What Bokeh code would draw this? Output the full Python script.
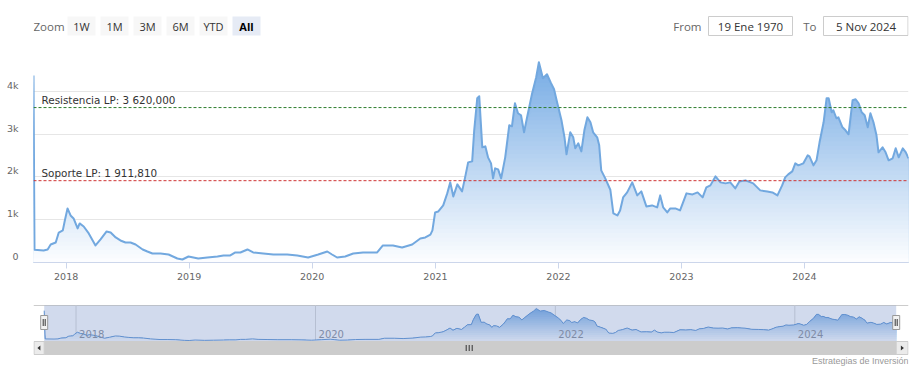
import numpy as np
import pandas as pd
from bokeh.plotting import figure
from bokeh.layouts import column
from bokeh.models import (Range1d, FixedTicker, DatetimeTickFormatter, Label, Span,
                          LinearAxis, Grid)
from bokeh.embed import file_html
from bokeh.resources import INLINE
from bokeh.core.properties import value

# ---------------- data ----------------
dates = [
    "2017-09-26", "2017-09-29", "2017-10-26", "2017-11-07", "2017-11-16", "2017-12-01", "2017-12-10",
    "2017-12-22", "2017-12-28", "2018-01-05", "2018-01-14", "2018-01-23", "2018-02-04", "2018-02-10",
    "2018-02-22", "2018-03-09", "2018-03-29", "2018-04-13", "2018-05-01", "2018-05-13", "2018-05-28",
    "2018-06-11", "2018-06-26", "2018-07-11", "2018-07-26", "2018-08-16", "2018-08-30", "2018-09-14",
    "2018-10-08", "2018-11-01", "2018-11-27", "2018-12-12", "2018-12-30", "2019-01-28", "2019-02-24",
    "2019-03-26", "2019-04-13", "2019-05-03", "2019-05-18", "2019-06-02", "2019-06-23", "2019-07-10",
    "2019-08-09", "2019-09-08", "2019-10-19", "2019-11-18", "2019-12-20", "2020-01-19", "2020-02-15",
    "2020-02-29", "2020-03-15", "2020-04-08", "2020-05-02", "2020-05-31", "2020-07-12", "2020-07-29",
    "2020-08-28", "2020-09-24", "2020-10-24", "2020-11-17", "2020-12-02", "2020-12-17", "2020-12-23",
    "2020-12-31", "2021-01-09", "2021-01-24", "2021-02-05", "2021-02-14", "2021-02-23", "2021-03-07",
    "2021-03-21", "2021-03-30", "2021-04-08", "2021-04-20", "2021-04-26", "2021-05-05", "2021-05-11",
    "2021-05-20", "2021-05-29", "2021-06-06", "2021-06-15", "2021-06-21", "2021-06-27", "2021-07-06",
    "2021-07-15", "2021-07-27", "2021-08-08", "2021-08-16", "2021-08-25", "2021-09-03", "2021-09-12",
    "2021-09-21", "2021-09-30", "2021-10-15", "2021-10-27", "2021-11-04", "2021-11-16", "2021-11-28",
    "2021-12-10", "2021-12-19", "2021-12-28", "2022-01-10", "2022-01-19", "2022-01-25", "2022-02-05",
    "2022-02-14", "2022-02-20", "2022-03-01", "2022-03-10", "2022-03-19", "2022-03-28", "2022-04-06",
    "2022-04-14", "2022-04-26", "2022-05-02", "2022-05-08", "2022-05-20", "2022-06-04", "2022-06-13",
    "2022-06-25", "2022-07-03", "2022-07-12", "2022-07-24", "2022-08-08", "2022-08-23", "2022-09-04",
    "2022-09-19", "2022-10-06", "2022-10-21", "2022-10-30", "2022-11-08", "2022-11-20", "2022-11-29",
    "2022-12-14", "2022-12-28", "2023-01-16", "2023-02-03", "2023-02-18", "2023-03-05", "2023-03-16",
    "2023-03-28", "2023-04-12", "2023-04-27", "2023-05-12", "2023-05-26", "2023-06-10", "2023-06-22",
    "2023-07-10", "2023-08-02", "2023-08-23", "2023-09-13", "2023-09-28", "2023-10-13", "2023-10-27",
    "2023-11-05", "2023-11-14", "2023-11-26", "2023-12-05", "2023-12-14", "2023-12-29", "2024-01-11",
    "2024-01-16", "2024-01-28", "2024-02-06", "2024-02-15", "2024-02-27", "2024-03-07", "2024-03-13",
    "2024-03-22", "2024-03-27", "2024-04-05", "2024-04-11", "2024-04-23", "2024-05-02", "2024-05-11",
    "2024-05-23", "2024-06-01", "2024-06-10", "2024-06-19", "2024-06-28", "2024-07-07", "2024-07-15",
    "2024-07-24", "2024-08-02", "2024-08-08", "2024-08-20", "2024-08-29", "2024-09-07", "2024-09-19",
    "2024-09-28", "2024-10-07", "2024-10-19", "2024-10-28", "2024-11-05",
]
values = [
    4370, 300, 280, 304, 420, 468, 700,
    750, 983, 1264, 1100, 1030, 796, 913,
    842, 679, 398, 538, 725, 702, 585,
    515, 468, 468, 421, 304, 257, 210,
    210, 187, 94, 70, 140, 94, 117,
    140, 164, 164, 234, 234, 304, 234,
    210, 187, 187, 164, 117, 187, 257,
    187, 117, 140, 210, 234, 234, 398,
    398, 351, 421, 562, 585, 650, 749,
    1170, 1190, 1334, 1615, 1872, 1544, 1825,
    1661, 1989, 2340, 2363, 3089, 3838, 3884,
    2691, 2714, 2457, 2317, 1966, 2200, 2176,
    1966, 2457, 3206, 3182, 3721, 3487, 3440,
    3042, 3393, 3955, 4329, 4680, 4306, 4399,
    4189, 4048, 3744, 3323, 2925, 2527, 3042,
    2925, 2668, 2785, 2597, 3089, 3393, 3276,
    3042, 2925, 2738, 2153, 1966, 1700, 1147,
    1100, 1217, 1521, 1638, 1872, 1568, 1661,
    1310, 1334, 1287, 1568, 1287, 1170, 1264,
    1264, 1217, 1615, 1591, 1638, 1521, 1755,
    1802, 2012, 1872, 1849, 1872, 1732, 1895,
    1919, 1849, 1685, 1661, 1638, 1568, 1802,
    1989, 2059, 2129, 2317, 2270, 2317, 2504,
    2480, 2270, 2387, 2808, 3276, 3838, 3838,
    3510, 3557, 3370, 3393, 3159, 3089, 2995,
    3791, 3814, 3721, 3510, 3440, 3159, 3487,
    3276, 2972, 2574, 2691, 2574, 2387, 2434,
    2668, 2457, 2668, 2574, 2434,
]

level_values = [3620.0, 1911.81]
level_names = ["Resistencia LP", "Soporte LP"]
level_colors = ["#2d7d2d", "#cf3434"]

y_ticks = [0, 1000, 2000, 3000, 4000, 5000]
y_tick_labels = ["0", "1k", "2k", "3k", "4k", ""]
x_tick_years = [2018, 2019, 2020, 2021, 2022, 2023, 2024]
nav_tick_years = [2018, 2020, 2022, 2024]
zoom_buttons = ["1W", "1M", "3M", "6M", "YTD", "All"]
selected_button = "All"
from_label, from_date = "From", "19 Ene 1970"
to_label, to_date = "To", "5 Nov 2024"
credit_text = "Estrategias de Inversión"

# ---------------- helpers ----------------
W = 922
FL, FR = 33, 908            # horizontal frame edges (page px), shared by all three panels
xs = pd.to_datetime(dates)
xms = xs.values.astype("datetime64[ms]").astype("int64").astype(float)
vals = np.array(values, dtype=float)


def year_ms(y):
    return float(np.datetime64(f"{y}-01-01", "ms").astype("int64"))


def es_num(v):
    s = f"{v:,.3f}"
    return s.replace(",", " ").replace(".", ",")


TOP = np.array([118, 171, 228], float)
BOT = np.array([253, 254, 255], float)


def grad(t):
    c = BOT + (TOP - BOT) * t
    return "#%02x%02x%02x" % tuple(int(round(q)) for q in c)


def draw_area(fig, nbands, line_color, line_width):
    vmax = vals.max()
    for k in range(nbands, 0, -1):
        b = vmax * k / nbands
        t = (k - 0.5) / nbands
        fig.varea(x=xms, y1=0, y2=np.minimum(vals, b), fill_color=grad(t), fill_alpha=1.0)
    fig.line(xms, vals, line_color=line_color, line_width=line_width, line_join="round")


FONT = "DejaVu Sans"
UI = "Open Sans"

# ---------------- header (range selector / inputs) ----------------
HH = 40
hdr = figure(width=W, height=HH, x_range=Range1d(FL, FR), y_range=Range1d(HH, 0),
             x_axis_location=None, y_axis_location=None, toolbar_location=None,
             output_backend="svg", min_border=0, min_border_left=FL, min_border_right=W - FR,
             outline_line_color=None)
hdr.grid.visible = False

btn_left = [67, 100, 133, 166, 199, 232]
btn_w = 28
btn_fill = ["#e6ebf5" if b == selected_button else "#f7f7f7" for b in zoom_buttons]
hdr.quad(left=btn_left, right=[l + btn_w for l in btn_left], top=16, bottom=35,
         fill_color=btn_fill, line_color=None)
norm = [(l + btn_w / 2, b) for l, b in zip(btn_left, zoom_buttons) if b != selected_button]
sel = [(l + btn_w / 2, b) for l, b in zip(btn_left, zoom_buttons) if b == selected_button]
hdr.text(x=[c for c, _ in norm], y=25.5, text=[b for _, b in norm], text_align="center",
         text_baseline="middle", text_font=value(UI), text_font_size="11px",
         text_color="#333333")
hdr.text(x=[c for c, _ in sel], y=25.5, text=[b for _, b in sel], text_align="center",
         text_baseline="middle", text_font=value(UI), text_font_size="11px",
         text_font_style="bold", text_color="#000000")
hdr.text(x=[33], y=[25.5], text=["Zoom"], text_align="left", text_baseline="middle",
         text_font=value(UI), text_font_size="11.5px", text_color="#666666")

hdr.quad(left=[708, 823], right=[792, 907.5], top=16, bottom=35, fill_color="#ffffff",
         line_color="#cccccc", line_width=1)
hdr.text(x=[701, 816], y=25.5, text=[from_label, to_label], text_align="right",
         text_baseline="middle", text_font=value(UI), text_font_size="11.5px",
         text_color="#666666")
hdr.text(x=[750, 865.5], y=25.5, text=[from_date, to_date], text_align="center",
         text_baseline="middle", text_font=value(UI), text_font_size="11.5px",
         text_color="#333333")

# ---------------- main chart ----------------
MH = 252
FT, FB = 8, 30
p = figure(width=W, height=MH, x_axis_type="datetime", y_axis_location=None,
           x_range=Range1d(xms[0], xms[-1]), y_range=Range1d(y_ticks[0], y_ticks[-1]),
           toolbar_location=None, output_backend="svg",
           min_border_left=FL, min_border_right=W - FR, min_border_top=FT, min_border_bottom=FB,
           outline_line_color=None, background_fill_color="#ffffff", border_fill_color="#ffffff")

frame_h = MH - FT - FB
lab_off = 6 * (y_ticks[-1] - y_ticks[0]) / frame_h   # labels sit ~6px above their gridline
p.extra_y_ranges = {"lab": Range1d(y_ticks[0] - lab_off, y_ticks[-1] - lab_off)}

if len(p.ygrid) == 0:
    p.add_layout(Grid(dimension=1, ticker=FixedTicker(ticks=y_ticks)))
for g in p.ygrid:
    g.ticker = FixedTicker(ticks=y_ticks)
    g.grid_line_color = "#e6e6e6"
p.xgrid.grid_line_color = None

draw_area(p, 48, "#72a8df", 2)

for lv, nm, col in zip(level_values, level_names, level_colors):
    p.add_layout(Span(location=lv, dimension="width", line_color=col, line_dash="3 2", line_width=1))
    p.add_layout(Label(x=xms[0], y=lv, x_offset=8, y_offset=2, text=f"{nm}: {es_num(lv)}",
                       text_baseline="bottom", text_font=FONT, text_font_size="10.4px",
                       text_color="#333333"))

p.xaxis.ticker = FixedTicker(ticks=[year_ms(y) for y in x_tick_years])
p.xaxis.formatter = DatetimeTickFormatter(years="%Y", months="%Y", days="%Y", hours="%Y",
                                          hourmin="%Y", minutes="%Y", minsec="%Y",
                                          seconds="%Y", milliseconds="%Y")
p.xaxis.axis_line_color = "#ccd6eb"
p.xaxis.major_tick_line_color = "#ccd6eb"
p.xaxis.major_tick_out = 6
p.xaxis.major_tick_in = 0
p.xaxis.minor_tick_line_color = None
p.xaxis.major_label_text_color = "#666666"
p.xaxis.major_label_text_font = FONT
p.xaxis.major_label_text_font_size = "9.5px"
p.xaxis.major_label_standoff = 4

yax = LinearAxis(y_range_name="lab", ticker=FixedTicker(ticks=y_ticks),
                 major_label_overrides={t: lab for t, lab in zip(y_ticks, y_tick_labels)},
                 axis_line_color=None, major_tick_line_color=None, minor_tick_line_color=None,
                 major_tick_out=0, major_tick_in=0, major_label_standoff=15,
                 major_label_text_color="#666666", major_label_text_font=FONT,
                 major_label_text_font_size="9.5px")
p.add_layout(yax, "left")

# ---------------- navigator + scrollbar ----------------
NT = MH + HH                 # page y of navigator panel top (292)
NH = 80
NB = NT + NH                 # 372
nav_l, nav_r = 43.7, 895.7   # page x of first / last data point in the navigator
nav_top, nav_bot = 305, 341
zero_y, top_y = 340.5, 308.0
ms_per_px = (xms[-1] - xms[0]) / (nav_r - nav_l)
vmax = vals.max()
k = vmax / (zero_y - top_y)
nav = figure(width=W, height=NH,
             x_range=Range1d(xms[0] - (nav_l - FL) * ms_per_px, xms[-1] + (FR - nav_r) * ms_per_px),
             y_range=Range1d(-(NB - zero_y) * k, (zero_y - NT) * k),
             x_axis_location=None, y_axis_location=None, toolbar_location=None,
             output_backend="svg", min_border=0, min_border_left=FL, min_border_right=W - FR,
             outline_line_color=None)
nav.grid.visible = False
nav.extra_x_ranges = {"px": Range1d(FL, FR)}
nav.extra_y_ranges = {"px": Range1d(NB, NT)}
PX = dict(x_range_name="px", y_range_name="px")

nav.segment(x0=FL, y0=nav_top, x1=FR, y1=nav_top, line_color="#cccccc", line_width=1, **PX)
nav_ticks = [year_ms(y) for y in nav_tick_years]
nav.segment(x0=nav_ticks, y0=nav_top, x1=nav_ticks, y1=nav_bot, line_color="#d8d8d8",
            line_width=1, y_range_name="px")
draw_area(nav, 16, "#5f95d3", 1)
nav.text(x=nav_ticks, y=333, text=[str(y) for y in nav_tick_years], x_offset=3,
         text_align="left", text_baseline="middle", text_font=value(FONT),
         text_font_size="10px", text_color="#8a8f99", y_range_name="px")
# selected-range mask
nav.quad(left=xms[0], right=xms[-1], top=nav_top, bottom=nav_bot, fill_color="#6685c2",
         fill_alpha=0.3, line_color=None, y_range_name="px")

# scrollbar
sb_top, sb_bot = 341, 354
nav.quad(left=FL, right=FR, top=sb_top, bottom=sb_bot, fill_color="#f2f2f2", line_color=None, **PX)
nav.quad(left=xms[0], right=xms[-1], top=sb_top, bottom=sb_bot, fill_color="#cccccc",
         line_color="#cccccc", y_range_name="px")
nav.quad(left=[FL + 0.5, nav_r], right=[nav_l, FR - 0.5], top=sb_top, bottom=sb_bot,
         fill_color="#ebebeb", line_color="#cccccc", **PX)
sb_mid = (sb_top + sb_bot) / 2
lcx, rcx = (FL + nav_l) / 2, (nav_r + FR) / 2
nav.patches(xs=[[lcx + 1.5, lcx - 1.5, lcx + 1.5], [rcx - 1.5, rcx + 1.5, rcx - 1.5]],
            ys=[[sb_mid - 2.5, sb_mid, sb_mid + 2.5]] * 2,
            fill_color="#333333", line_color=None, **PX)
cx = (nav_l + nav_r) / 2 - 1
nav.segment(x0=[cx - 3, cx, cx + 3], y0=sb_mid - 3, x1=[cx - 3, cx, cx + 3], y1=sb_mid + 3,
            line_color="#333333", line_width=1, **PX)

# handles
h_top, h_bot = 315, 329
nav.quad(left=[nav_l - 3.5, nav_r - 3.5], right=[nav_l + 3.5, nav_r + 3.5], top=h_top,
         bottom=h_bot, fill_color="#f2f2f2", line_color="#999999", **PX)
nav.segment(x0=[nav_l - 1, nav_l + 1, nav_r - 1, nav_r + 1], y0=h_top + 3.5,
            x1=[nav_l - 1, nav_l + 1, nav_r - 1, nav_r + 1], y1=h_bot - 3.5,
            line_color="#333333", line_width=1, **PX)

nav.text(x=[FR], y=[360.5], text=[credit_text], text_align="right", text_baseline="middle",
         text_font=value("Liberation Sans"), text_font_size="9px", text_color="#999999", **PX)

layout = column(hdr, p, nav)
open("out.html", "w").write(file_html(layout, INLINE))
